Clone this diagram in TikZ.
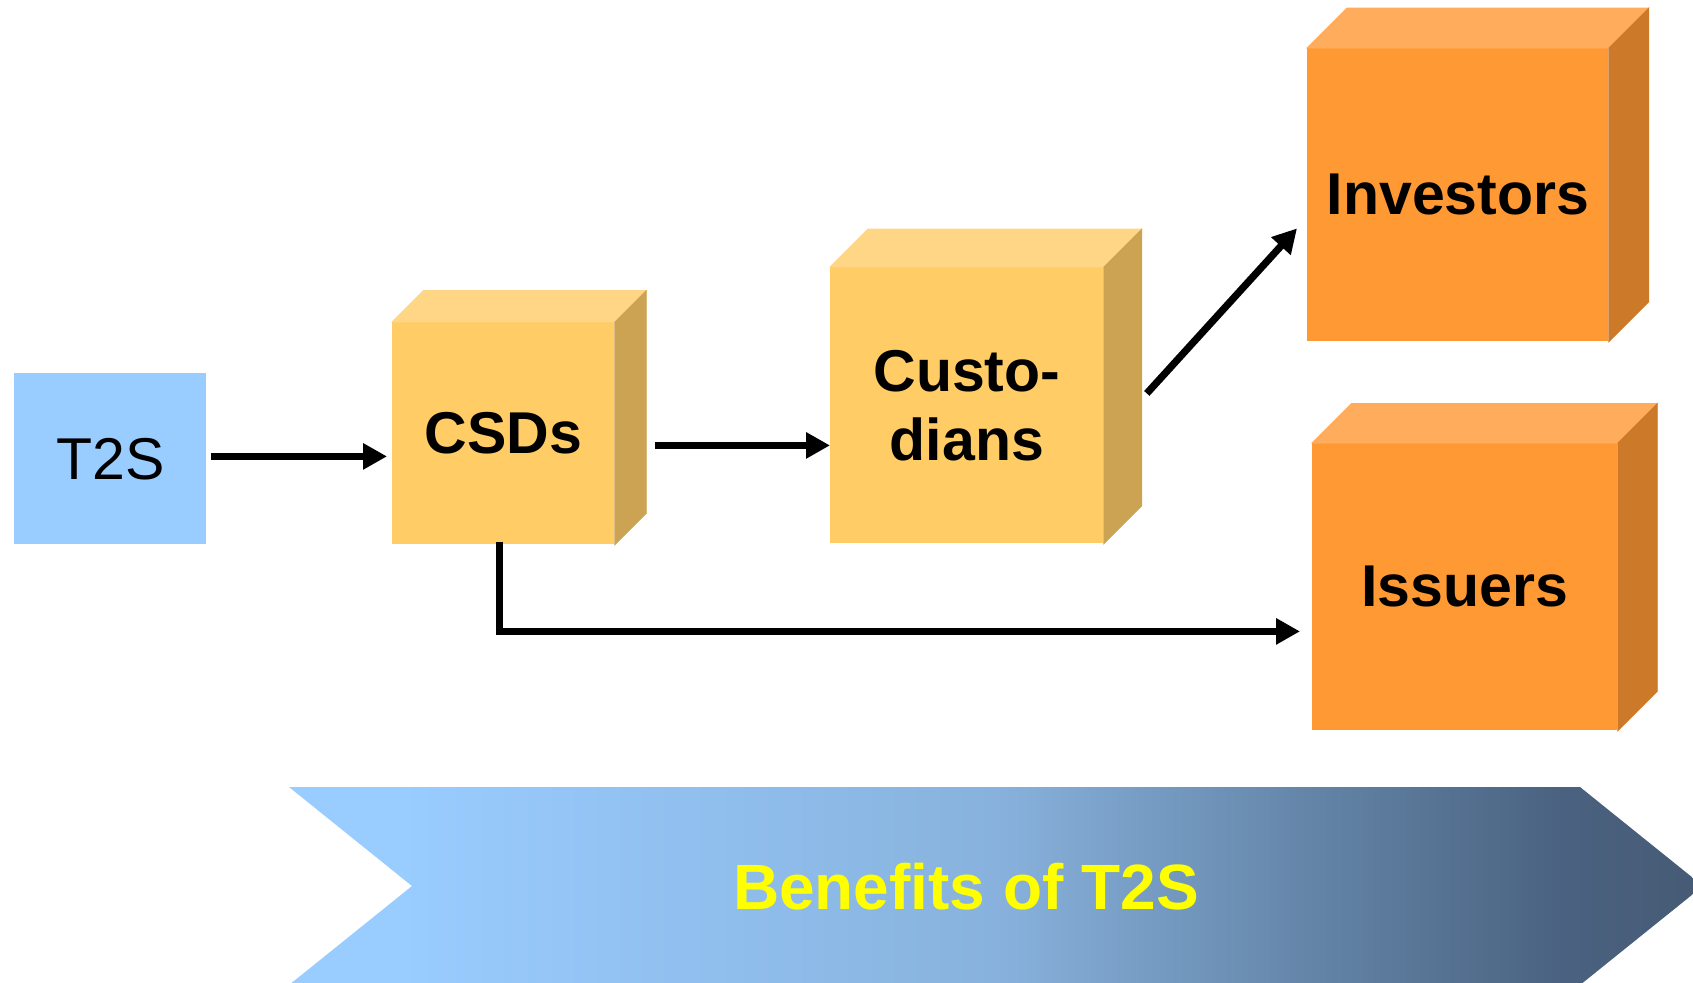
\documentclass[tikz,border=0pt]{standalone}
\usepackage{fontspec}
\setmainfont{Liberation Sans}
\usetikzlibrary{arrows.meta,calc}
\definecolor{t2sblue}{HTML}{99CCFF}
\definecolor{yfront}{HTML}{FFCC66}
\definecolor{ytop}{HTML}{FFD685}
\definecolor{yside}{HTML}{CCA352}
\definecolor{ofront}{HTML}{FF9933}
\definecolor{otop}{HTML}{FFAD5C}
\definecolor{oside}{HTML}{CC7A29}
\definecolor{chA}{HTML}{99CCFF}
\definecolor{chB}{HTML}{88B2DD}
\definecolor{chC}{HTML}{6485A8}
\definecolor{chD}{HTML}{4A6280}
\definecolor{chE}{HTML}{465A74}
\definecolor{benyellow}{HTML}{FFFF00}
\pgfdeclarehorizontalshading{benefshade}{100bp}{color(0bp)=(chA); color(29bp)=(chA); color(50bp)=(chB); color(61bp)=(chC); color(70bp)=(chD); color(75bp)=(chE); color(100bp)=(chE)}
\newcommand\drawcubefaces[4]{%
  \filldraw[fill=#3, draw=#3, line width=0.4pt] (#1.north west) -- ++(#2,-#2) -- ($(#1.north east)+(#2,-#2)$) -- (#1.north east) -- cycle;
  \filldraw[fill=#4, draw=#4, line width=0.4pt] (#1.north east) -- ++(#2,-#2) -- ($(#1.south east)+(#2,-#2)$) -- (#1.south east) -- cycle;
}
\tikzset{
  boxtext/.style={font={\fontsize{29.5pt}{34.5pt}\selectfont}},
  cubefront/.style={anchor=north west, inner sep=0pt, align=center, font={\bfseries\fontsize{29.5pt}{34.5pt}\selectfont}},
  arr/.style={line width=3.6pt, -{Triangle[length=12pt 0 0,width=12.5pt 0 0]}},
}
\begin{document}
\begin{tikzpicture}[x=0.5pt,y=-0.5pt]
\useasboundingbox (0,0) rectangle (1693,982);
\clip (0,0) rectangle (1693,982);

% chevron
\shade[shading=benefshade] (289,787) -- (1580,787) -- (1703,886) -- (1580,985) -- (289,985) -- (412,886) -- cycle;
\node[font={\bfseries\fontsize{32pt}{38pt}\selectfont}, text=benyellow, inner sep=0pt] (benef) at (966,887) {Benefits of T2S};

% T2S
\node[fill=t2sblue, anchor=north west, inner sep=0pt, minimum width=96pt, minimum height=85.5pt, boxtext] (t2s) at (14,373) {T2S};

% CSDs
\node[cubefront, fill=yfront, minimum width=111pt, minimum height=111pt] (csd) at (392,322) {CSDs};
\drawcubefaces{csd}{31.5}{ytop}{yside}

% Custodians
\node[cubefront, fill=yfront, minimum width=136.5pt, minimum height=138pt] (cust) at (830,267) {Custo-\\dians};
\drawcubefaces{cust}{38}{ytop}{yside}

% Investors
\node[cubefront, fill=ofront, minimum width=150.5pt, minimum height=146.5pt] (inv) at (1307,48) {Investors};
\drawcubefaces{inv}{40}{otop}{oside}

% Issuers
\node[cubefront, fill=ofront, minimum width=152.5pt, minimum height=143.5pt] (iss) at (1312,443) {Issuers};
\drawcubefaces{iss}{39.5}{otop}{oside}

% connectors
\draw[arr, shorten >=2.5pt] ($(t2s.east)+(4,-2.5)$) coordinate (a1) -- (a1 -| csd.west);
\draw[arr] ($(csd.east)+(40,12)$) coordinate (a2) -- (a2 -| cust.west);
\draw[arr] ($(cust.east)+(43,-12)$) -- ($(inv.west)+(-10,33.5)$);
\draw[arr] ($(csd.south)+(-4,-3)$) |- ($(iss.west)+(-12,44.5)$);
\end{tikzpicture}
\end{document}
